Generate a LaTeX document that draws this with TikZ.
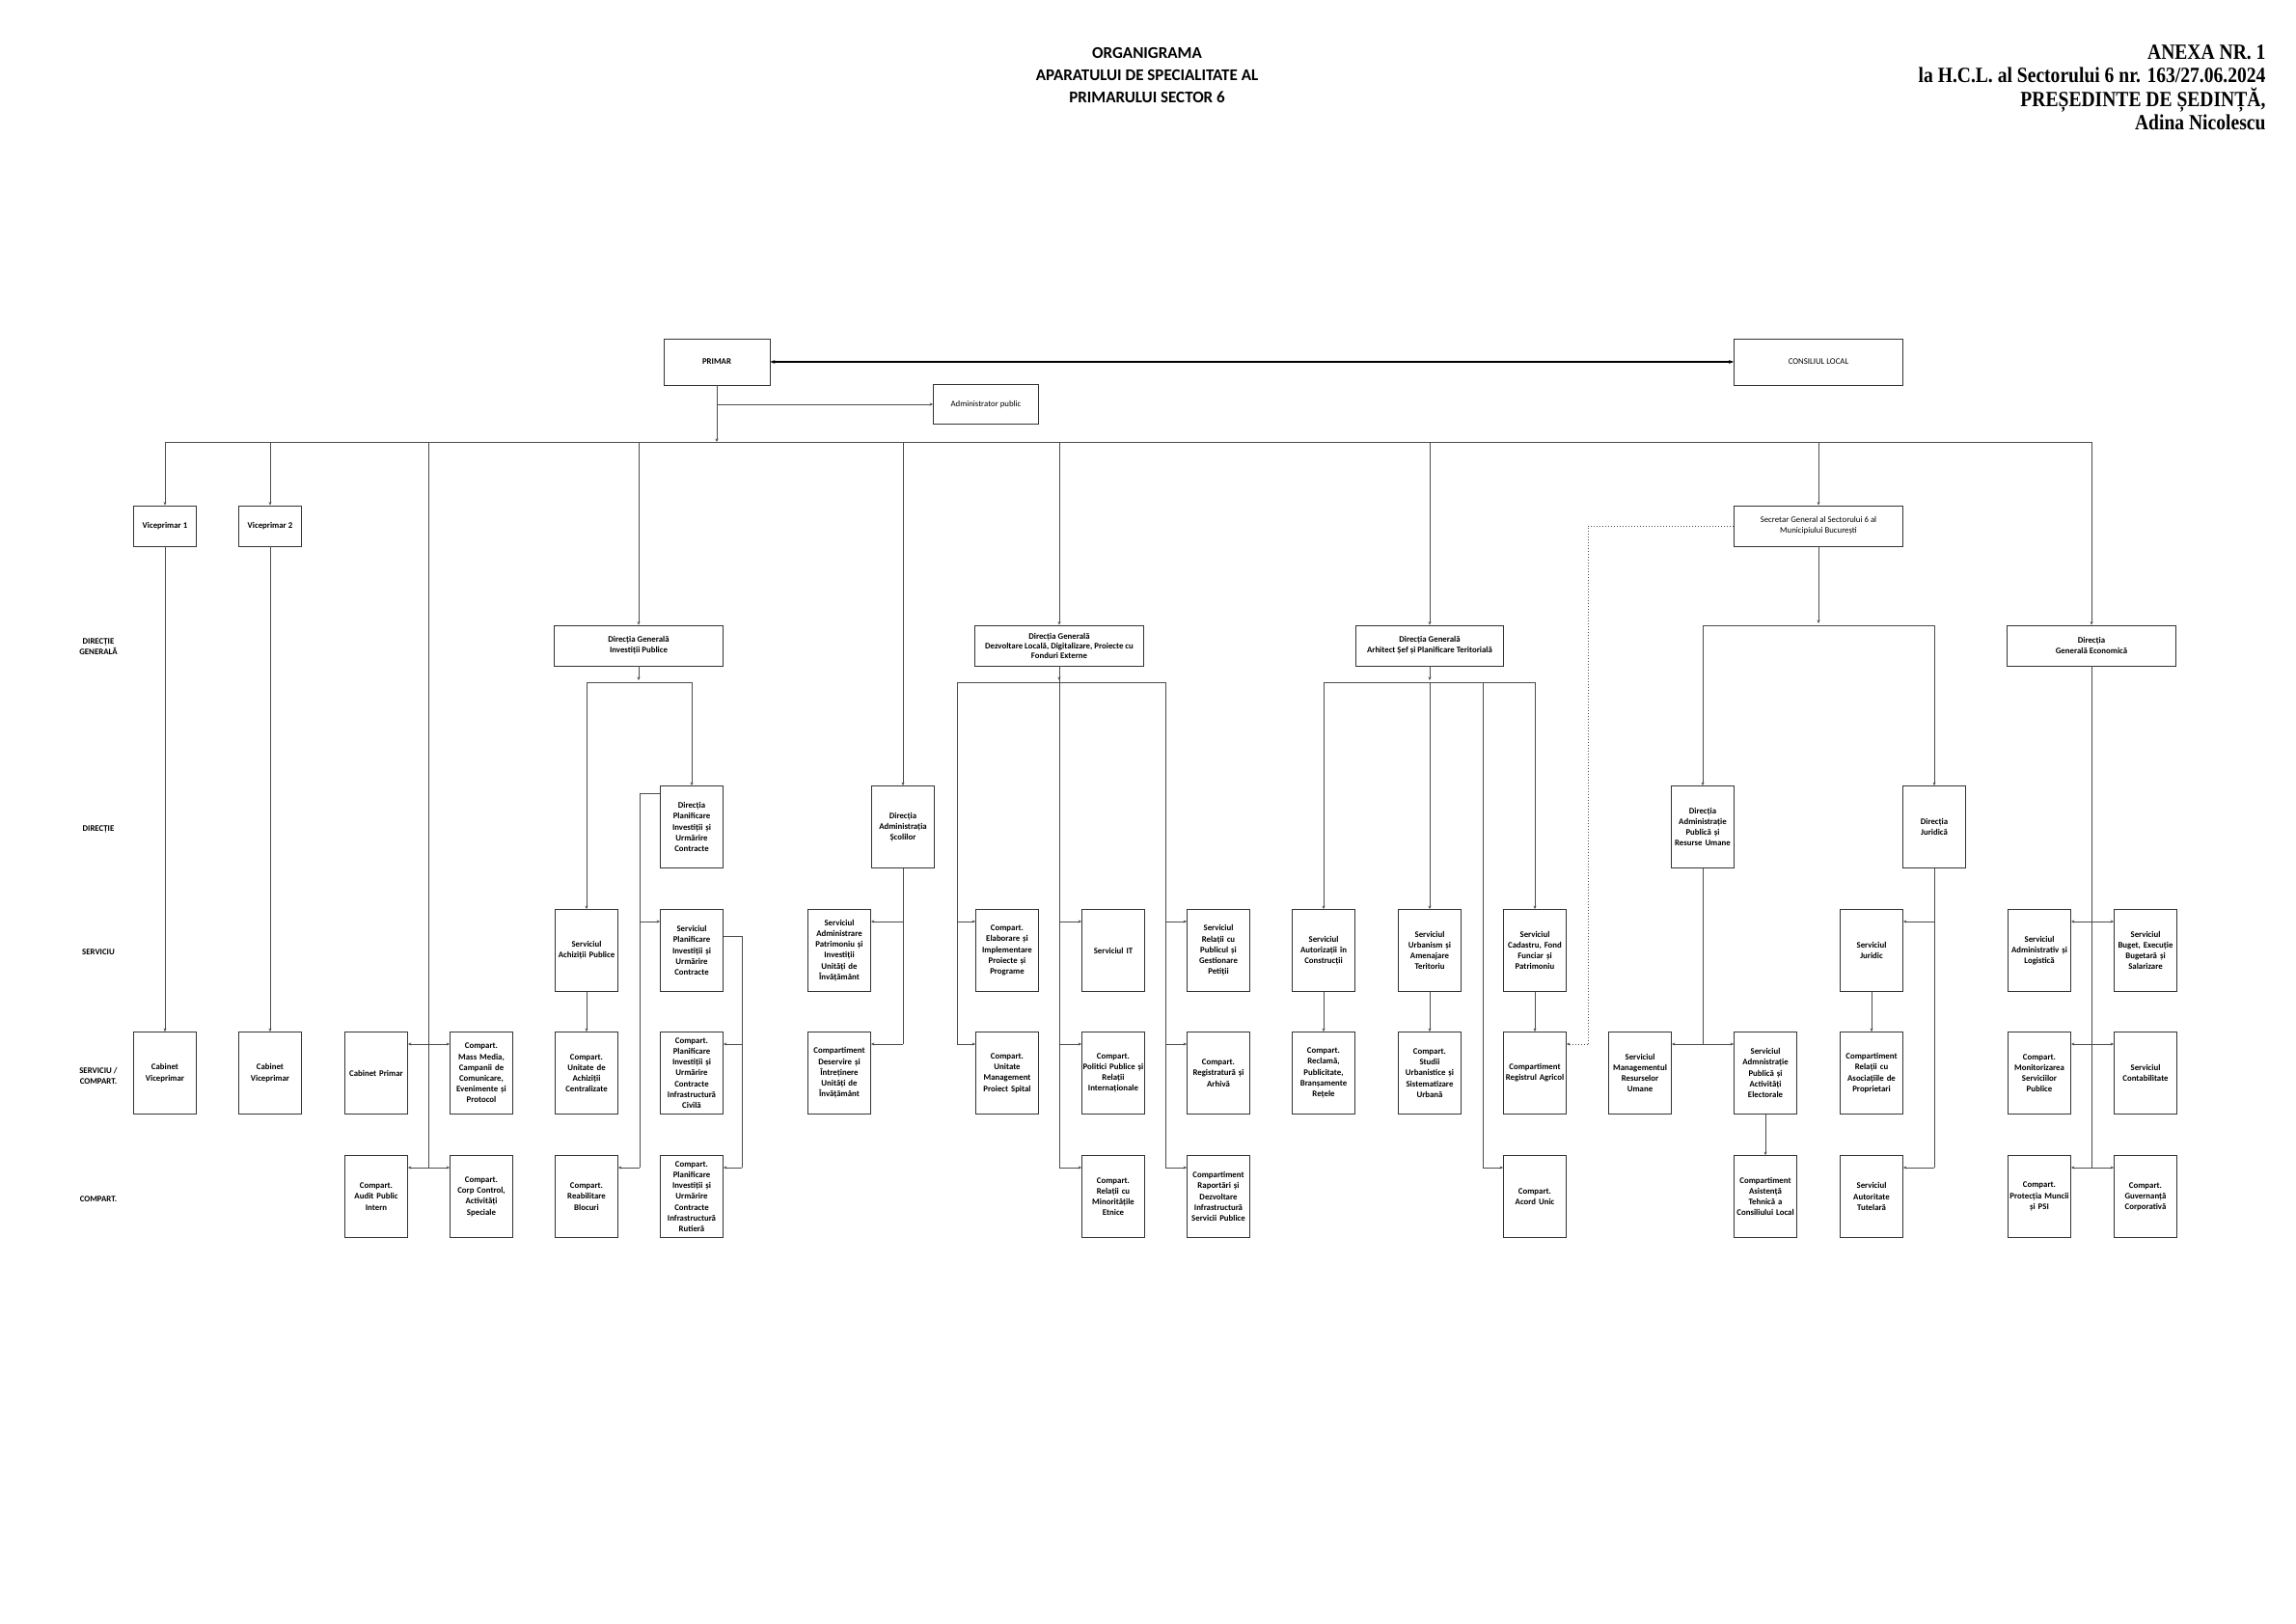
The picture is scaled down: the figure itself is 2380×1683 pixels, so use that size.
\documentclass[tikz,border=0pt]{standalone}
\usepackage{fontspec}
\setmainfont{Carlito}
\newfontfamily\hdr[FakeStretch=0.87]{Liberation Serif}
\usetikzlibrary{arrows.meta}
\begin{document}
\begin{tikzpicture}[x=1pt,y=-1pt,
  bx/.style={draw=black!80,line width=0.8pt,minimum width=65pt,minimum height=85pt,text width=63pt,align=center,inner sep=1pt,font=\fontsize{8.8}{11.2}\selectfont\bfseries},
  wb/.style={draw=black!80,line width=0.8pt,minimum height=42pt,align=center,font=\fontsize{8.8}{11.2}\selectfont\bfseries},
  ln/.style={draw=black!70,line width=0.6pt},
  arr/.style={ln,-{Stealth[length=3.5pt,width=3pt]}},
  lbl/.style={align=center,font=\fontsize{8.8}{11.2}\selectfont\bfseries}]
\useasboundingbox (0,0) rectangle (2380,1683);
% header
\node[align=center,font=\fontsize{17}{23}\selectfont\bfseries] (title) at (1189,78) {ORGANIGRAMA\\APARATULUI DE SPECIALITATE AL\\PRIMARULUI SECTOR 6};
\node[align=right,anchor=north east,font=\hdr\fontsize{22.5}{24.5}\selectfont\bfseries] (anexa) at (2352,43) {ANEXA NR. 1\\la H.C.L. al Sectorului 6 nr. 163/27.06.2024\\PREȘEDINTE DE ȘEDINȚĂ,\\Adina Nicolescu};
% row labels
\node[lbl] (r1) at (102,670) {DIRECȚIE\\GENERALĂ};
\node[lbl] (r2) at (102,859) {DIRECȚIE};
\node[lbl] (r3) at (102,987) {SERVICIU};
\node[lbl] (r4) at (102,1115) {SERVICIU /\\COMPART.};
\node[lbl] (r5) at (102,1243) {COMPART.};
% coordinates
\coordinate (yS) at (0,955);
\coordinate (yC) at (0,1082);
\coordinate (yK) at (0,1210);
\coordinate (yI) at (0,707);
\coordinate (yB) at (0,458);
% top
\node[wb,minimum width=110pt,minimum height=48pt] (pri) at (743,375) {PRIMAR};
\node[wb,minimum width=109pt,minimum height=41pt,font=\fontsize{8.8}{11}\selectfont] (adm) at (1022,419) {Administrator public};
\node[wb,minimum width=175pt,minimum height=48pt,font=\fontsize{8.8}{11}\selectfont] (cl) at (1885,375) {CONSILIUL LOCAL};
\node[wb,minimum width=175pt,font=\fontsize{8.8}{11}\selectfont] (sec) at (1885,545) {Secretar General al Sectorului 6 al\\Municipiului București};
\node[wb,minimum width=65pt] (v1) at (171,545) {Viceprimar 1};
\node[wb,minimum width=65pt] (v2) at (280,545) {Viceprimar 2};
% DG row
\node[wb,minimum width=175pt] (dgi) at (662,669) {Direcția Generală\\Investiții Publice};
\node[wb,minimum width=175pt,font=\fontsize{8.8}{10}\selectfont\bfseries] (dgd) at (1098,669) {Direcția Generală\\Dezvoltare Locală, Digitalizare, Proiecte cu\\Fonduri Externe};
\node[wb,minimum width=153pt] (dga) at (1482,669) {Direcția Generală\\Arhitect Șef și Planificare Teritorială};
\node[wb,minimum width=175pt] (dge) at (2168,669) {Direcția\\Generală  Economică};
% Directie row
\node[bx] (dpl) at (717,857) {Direcția\\Planificare\\Investiții și\\Urmărire\\Contracte};
\node[bx] (das) at (936,857) {Direcția\\Administrația\\Școlilor};
\node[bx] (dapru) at (1765,857) {Direcția\\Administrație\\Publică  și\\Resurse Umane};
\node[bx] (jur) at (2005,857) {Direcția\\Juridică};
% Serviciu row
\node[bx] (ach) at (608,985) {Serviciul\\Achiziții Publice};
\node[bx] (spl) at (717,985) {Serviciul\\Planificare\\Investiții și\\Urmărire\\Contracte};
\node[bx] (sap) at (870,985) {Serviciul\\Administrare\\Patrimoniu și\\Investiții\\Unități de\\Învățământ};
\node[bx] (elab) at (1044,985) {Compart.\\Elaborare și\\Implementare\\Proiecte și\\Programe};
\node[bx] (it) at (1154,985) {Serviciul IT};
\node[bx] (rel) at (1263,985) {Serviciul\\Relații cu\\Publicul și\\Gestionare\\Petiții};
\node[bx] (aut) at (1372,985) {Serviciul\\Autorizații în\\Construcții};
\node[bx] (urb) at (1482,985) {Serviciul\\Urbanism și\\Amenajare\\Teritoriu};
\node[bx] (cad) at (1591,985) {Serviciul\\Cadastru, Fond\\Funciar și\\Patrimoniu};
\node[bx] (sj) at (1940,985) {Serviciul\\Juridic};
\node[bx] (sal) at (2114,985) {Serviciul\\Administrativ și\\Logistică};
\node[bx] (bug) at (2224,985) {Serviciul\\Buget, Execuție\\Bugetară și\\Salarizare};
% SC row
\node[bx] (cv1) at (171,1112) {Cabinet\\Viceprimar};
\node[bx] (cv2) at (280,1112) {Cabinet\\Viceprimar};
\node[bx] (cp) at (390,1112) {Cabinet Primar};
\node[bx] (mm) at (499,1112) {Compart.\\Mass Media,\\Campanii de\\Comunicare,\\Evenimente și\\Protocol};
\node[bx] (cua) at (608,1112) {Compart.\\Unitate de\\Achiziții\\Centralizate};
\node[bx] (civ) at (717,1112) {Compart.\\Planificare\\Investiții și\\Urmărire\\Contracte\\Infrastructură\\Civilă};
\node[bx] (dsv) at (870,1112) {Compartiment\\Deservire și\\Întreținere\\Unități de\\Învățământ};
\node[bx] (ump) at (1044,1112) {Compart.\\Unitate\\Management\\Proiect Spital};
\node[bx] (pol) at (1154,1112) {Compart.\\Politici Publice și\\Relații\\Internaționale};
\node[bx] (reg) at (1263,1112) {Compart.\\Registratură și\\Arhivă};
\node[bx] (rec) at (1372,1112) {Compart.\\Reclamă,\\Publicitate,\\Branșamente\\Rețele};
\node[bx] (stu) at (1482,1112) {Compart.\\Studii\\Urbanistice și\\Sistematizare\\Urbană};
\node[bx] (rag) at (1591,1112) {Compartiment\\Registrul Agricol};
\node[bx] (smru) at (1700,1112) {Serviciul\\Managementul\\Resurselor\\Umane};
\node[bx] (sap2) at (1830,1112) {Serviciul\\Admnistrație\\Publică și\\Activități\\Electorale};
\node[bx] (cra) at (1940,1112) {Compartiment\\Relații cu\\Asociațiile de\\Proprietari};
\node[bx] (msp) at (2114,1112) {Compart.\\Monitorizarea\\Serviciilor\\Publice};
\node[bx] (con) at (2224,1112) {Serviciul\\Contabilitate};
% Compart row
\node[bx] (aud) at (390,1240) {Compart.\\Audit Public\\Intern};
\node[bx] (cc) at (499,1240) {Compart.\\Corp Control,\\Activități\\Speciale};
\node[bx] (reab) at (608,1240) {Compart.\\Reabilitare\\Blocuri};
\node[bx] (rut) at (717,1240) {Compart.\\Planificare\\Investiții și\\Urmărire\\Contracte\\Infrastructură\\Rutieră};
\node[bx] (min) at (1154,1240) {Compart.\\Relații cu\\Minoritățile\\Etnice};
\node[bx] (rap) at (1263,1240) {Compartiment\\Raportări și\\Dezvoltare\\Infrastructură\\Servicii Publice};
\node[bx] (acu) at (1591,1240) {Compart.\\Acord Unic};
\node[bx] (cat) at (1830,1240) {Compartiment\\Asistență\\Tehnică a\\Consiliului Local};
\node[bx] (tut) at (1940,1240) {Serviciul\\Autoritate\\Tutelară};
\node[bx] (pm) at (2114,1240) {Compart.\\Protecția Muncii\\și PSI};
\node[bx] (guv) at (2224,1240) {Compart.\\Guvernanță\\Corporativă};
% connectors top
\draw[line width=1.4pt,{Stealth[length=5pt]}-{Stealth[length=5pt]}] (pri.east) -- (cl.west);
\draw[arr] (pri.south) -- (743,458);
\draw[arr] (pri.south|-adm.west) -- (adm.west);
\draw[ln] (171,458) -- (2168,458);
\foreach \n in {v1,v2,dgi,das,dgd,dga,sec,dge} \draw[arr] (\n.north|-yB) -- (\n.north);
\draw[arr] (v1.south) -- (cv1.north);
\draw[arr] (v2.south) -- (cv2.north);
% cabinet line
\draw[ln] (444,458) -- (444,1210);
\draw[arr] (444,1082) -- (cp.east|-yC);
\draw[arr] (444,1082) -- (mm.west|-yC);
\draw[arr] (444,1210) -- (aud.east|-yK);
\draw[arr] (444,1210) -- (cc.west|-yK);
% DG Investitii
\draw[arr] (dgi.south) -- (662,705);
\draw[ln] (ach.north|-yI) -- (dpl.north|-yI);
\draw[arr] (ach.north|-yI) -- (ach.north);
\draw[arr] (dpl.north|-yI) -- (dpl.north);
\draw[arr] (ach.south) -- (cua.north);
\draw[ln] (dpl.west|-0,822) -- (663,822) -- (663,1210);
\draw[arr] (663,955) -- (spl.west|-yS);
\draw[arr] (663,1210) -- (reab.east|-yK);
\draw[ln] (spl.east|-0,970) -- (769,970) -- (769,1210);
\draw[arr] (769,1082) -- (civ.east|-yC);
\draw[arr] (769,1210) -- (rut.east|-yK);
% Scoli
\draw[ln] (das.south) -- (936,1082);
\draw[arr] (936,955) -- (sap.east|-yS);
\draw[arr] (936,1082) -- (dsv.east|-yC);
% DG Dezvoltare
\draw[arr] (dgd.south) -- (1098,705);
\draw[ln] (992,707) -- (1208,707);
\draw[ln] (992,707) -- (992,1082);
\draw[arr] (992,955) -- (elab.west|-yS);
\draw[arr] (992,1082) -- (ump.west|-yC);
\draw[ln] (1098,690) -- (1098,1210);
\draw[arr] (1098,955) -- (it.west|-yS);
\draw[arr] (1098,1082) -- (pol.west|-yC);
\draw[arr] (1098,1210) -- (min.west|-yK);
\draw[ln] (1208,707) -- (1208,1210);
\draw[arr] (1208,955) -- (rel.west|-yS);
\draw[arr] (1208,1082) -- (reg.west|-yC);
\draw[arr] (1208,1210) -- (rap.west|-yK);
% DG Arhitect
\draw[arr] (dga.south) -- (1482,705);
\draw[ln] (aut.north|-yI) -- (cad.north|-yI);
\draw[arr] (aut.north|-yI) -- (aut.north);
\draw[arr] (urb.north|-yI) -- (urb.north);
\draw[arr] (cad.north|-yI) -- (cad.north);
\draw[ln] (1537,707) -- (1537,1210);
\draw[arr] (1537,1210) -- (acu.west|-yK);
\draw[arr] (aut.south) -- (rec.north);
\draw[arr] (urb.south) -- (stu.north);
\draw[arr] (cad.south) -- (rag.north);
% Secretar
\draw[ln,dash pattern=on 1.5pt off 1.5pt] (sec.west) -- (1646,545) -- (1646,1082);
\draw[arr,dash pattern=on 1.5pt off 1.5pt] (1646,1082) -- (rag.east|-yC);
\draw[arr] (sec.south) -- (1885,646);
\draw[ln] (1765,648) -- (2005,648);
\draw[arr] (1765,648) -- (dapru.north);
\draw[arr] (2005,648) -- (jur.north);
\draw[ln] (dapru.south) -- (1765,1082);
\draw[arr] (1765,1082) -- (smru.east|-yC);
\draw[arr] (1765,1082) -- (sap2.west|-yC);
\draw[arr] (sap2.south) -- (cat.north);
\draw[ln] (jur.south) -- (2005,1210);
\draw[arr] (2005,955) -- (sj.east|-yS);
\draw[arr] (2005,1210) -- (tut.east|-yK);
\draw[arr] (sj.south) -- (cra.north);
% DG Economica
\draw[ln] (dge.south) -- (2168,1210);
\draw[arr] (2168,955) -- (sal.east|-yS);
\draw[arr] (2168,955) -- (bug.west|-yS);
\draw[arr] (2168,1082) -- (msp.east|-yC);
\draw[arr] (2168,1082) -- (con.west|-yC);
\draw[arr] (2168,1210) -- (pm.east|-yK);
\draw[arr] (2168,1210) -- (guv.west|-yK);
\end{tikzpicture}
\end{document}
